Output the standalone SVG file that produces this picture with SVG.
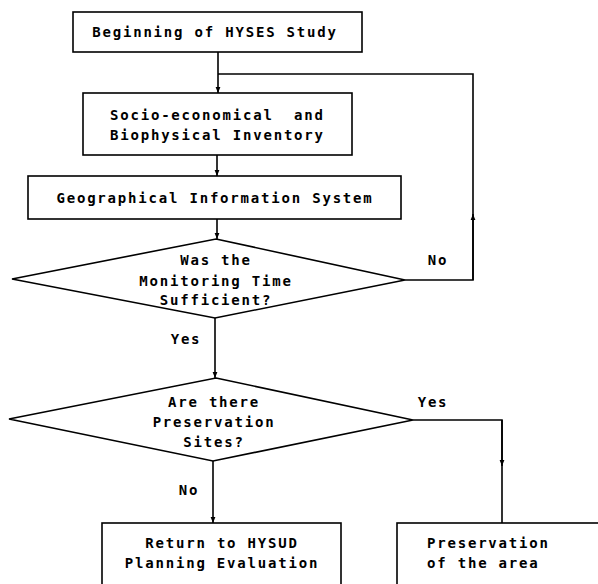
<svg xmlns="http://www.w3.org/2000/svg" width="598" height="584" viewBox="0 0 598 584">
<style>
.box{fill:#fff;stroke:#000;stroke-width:1.6}
.ln{fill:none;stroke:#000;stroke-width:1.6}
.t{font-family:"DejaVu Sans Mono","Liberation Mono",monospace;font-weight:bold;font-size:14px;letter-spacing:1.8px;fill:#000}
.c{text-anchor:middle}
</style>
<defs>
<marker id="ah" viewBox="0 0 10 10" refX="10" refY="5" markerWidth="6" markerHeight="8" orient="auto" markerUnits="userSpaceOnUse">
<path d="M0,1 L10,5 L0,9 z" fill="#000"/>
</marker>
</defs>
<rect width="598" height="584" fill="#fff"/>
<g id="connectors">
<line class="ln" x1="218" y1="52" x2="218" y2="93" marker-end="url(#ah)"/>
<polyline class="ln" points="405,280 473,280 473,74 218,74"/>
<line class="ln" x1="473" y1="280" x2="473" y2="214" marker-end="url(#ah)"/>
<line class="ln" x1="217" y1="155" x2="217" y2="176" marker-end="url(#ah)"/>
<line class="ln" x1="217" y1="219" x2="217" y2="239" marker-end="url(#ah)"/>
<line class="ln" x1="215" y1="318" x2="215" y2="378" marker-end="url(#ah)"/>
<polyline class="ln" points="413,420 502,420 502,523"/>
<line class="ln" x1="502" y1="420" x2="502" y2="466" marker-end="url(#ah)"/>
<line class="ln" x1="213" y1="461" x2="213" y2="523" marker-end="url(#ah)"/>
<text class="t c" x="438" y="265">No</text>
<text class="t c" x="186" y="344">Yes</text>
<text class="t c" x="433" y="407">Yes</text>
<text class="t c" x="189" y="495">No</text>
</g>
<g id="n1">
<rect class="box" x="73" y="12" width="289" height="40"/>
<text class="t c" x="215" y="37">Beginning of HYSES Study</text>
</g>
<g id="n2">
<rect class="box" x="83" y="93" width="269" height="62"/>
<text class="t" x="110" y="120" xml:space="preserve">Socio-economical  and</text>
<text class="t" x="110" y="140">Biophysical Inventory</text>
</g>
<g id="n3">
<rect class="box" x="28" y="176" width="373" height="43"/>
<text class="t c" x="215" y="203">Geographical Information System</text>
</g>
<g id="n4">
<polygon class="box" points="216,239 405,280 215,318 12,279"/>
<text class="t c" x="216" y="265">Was the</text>
<text class="t c" x="216" y="286">Monitoring Time</text>
<text class="t c" x="216" y="305">Sufficient?</text>
</g>
<g id="n5">
<polygon class="box" points="216,378 413,420 213,461 9,419"/>
<text class="t c" x="214" y="407">Are there</text>
<text class="t c" x="214" y="427">Preservation</text>
<text class="t c" x="214" y="447">Sites?</text>
</g>
<g id="n6">
<rect class="box" x="102" y="523" width="239" height="80"/>
<text class="t c" x="222" y="548">Return to HYSUD</text>
<text class="t c" x="222" y="568">Planning Evaluation</text>
</g>
<g id="n7">
<rect class="box" x="397" y="523" width="220" height="80"/>
<text class="t" x="427" y="548">Preservation</text>
<text class="t" x="427" y="568">of the area</text>
</g>
</svg>
